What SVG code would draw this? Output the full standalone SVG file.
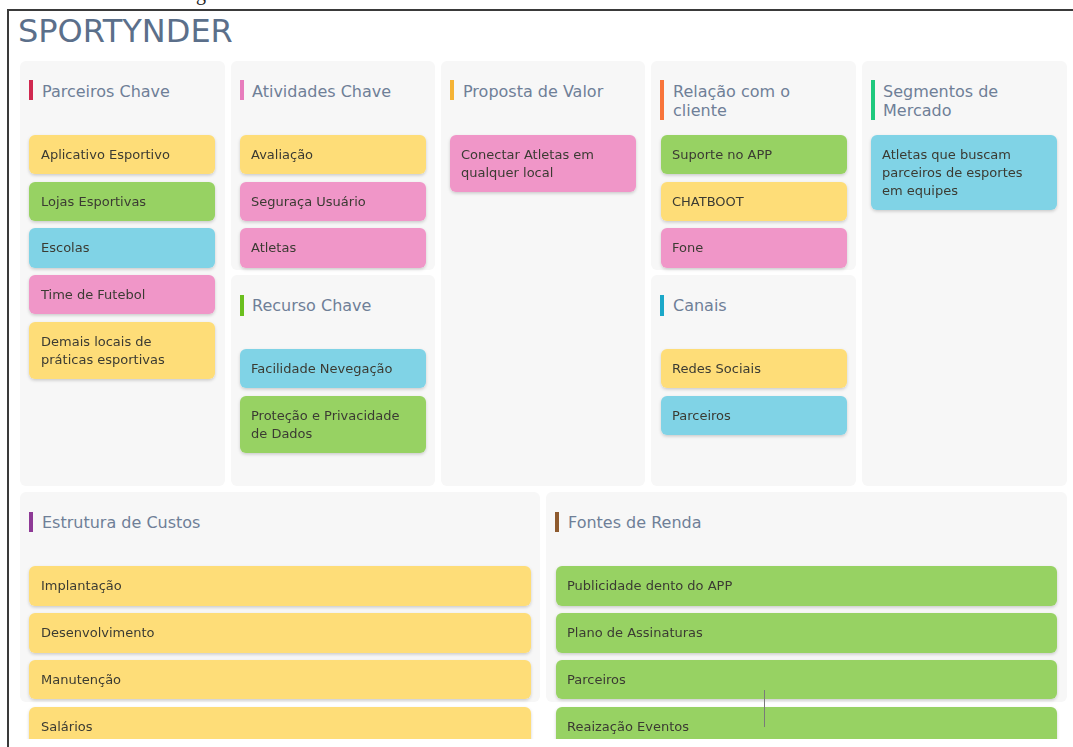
<svg xmlns="http://www.w3.org/2000/svg" width="1073" height="747" viewBox="0 0 1073 747">
<style>
.pn{fill:#f7f7f7}
.hd{font-family:"DejaVu Sans",Verdana,sans-serif;font-size:16px;fill:#6f7f97}
.ct{font-family:"DejaVu Sans",Verdana,sans-serif;font-size:13px;fill:#3b3b33}
.y{fill:#fedd78}
.g{fill:#97d263}
.b{fill:#80d3e6}
.p{fill:#f096c8}
</style>
<defs>
<filter id="sh" x="-5%" y="-20%" width="110%" height="150%">
<feDropShadow dx="0" dy="1.5" stdDeviation="1.5" flood-color="#000" flood-opacity="0.18"/>
</filter>
<clipPath id="clip"><rect x="0" y="0" width="1073" height="739"/></clipPath>
</defs>
<rect width="1073" height="747" fill="#ffffff"/>
<text x="196" y="0" font-family="Liberation Serif, serif" font-size="20" fill="#222">g</text>
<path d="M8,747 V10 H1073" fill="none" stroke="#3a3a3a" stroke-width="2"/>
<text x="18" y="42" font-family="DejaVu Sans, Verdana, sans-serif" font-size="32" fill="#5b6f8a">SPORTYNDER</text>
<g clip-path="url(#clip)">
<g id="parceiros-chave">
<rect class="pn" x="20" y="61" width="205" height="425" rx="6"/>
<rect x="29" y="80" width="4" height="20" fill="#d0284f"/>
<text class="hd" x="42" y="97">Parceiros Chave</text>
<g id="pc1" filter="url(#sh)"><rect class="y" x="29" y="135" width="186" height="39" rx="6"/><text class="ct" x="41" y="159">Aplicativo Esportivo</text></g>
<g id="pc2" filter="url(#sh)"><rect class="g" x="29" y="182" width="186" height="39" rx="6"/><text class="ct" x="41" y="206">Lojas Esportivas</text></g>
<g id="pc3" filter="url(#sh)"><rect class="b" x="29" y="228" width="186" height="40" rx="6"/><text class="ct" x="41" y="252">Escolas</text></g>
<g id="pc4" filter="url(#sh)"><rect class="p" x="29" y="275" width="186" height="39" rx="6"/><text class="ct" x="41" y="299">Time de Futebol</text></g>
<g id="pc5" filter="url(#sh)"><rect class="y" x="29" y="322" width="186" height="57" rx="6"/><text class="ct" x="41" y="346">Demais locais de</text><text class="ct" x="41" y="364">práticas esportivas</text></g>
</g>
<g id="atividades-chave">
<rect class="pn" x="231" y="61" width="204" height="209" rx="6"/>
<rect x="240" y="80" width="4" height="20" fill="#e77cbc"/>
<text class="hd" x="252" y="97">Atividades Chave</text>
<g id="ac1" filter="url(#sh)"><rect class="y" x="240" y="135" width="186" height="39" rx="6"/><text class="ct" x="251" y="159">Avaliação</text></g>
<g id="ac2" filter="url(#sh)"><rect class="p" x="240" y="182" width="186" height="39" rx="6"/><text class="ct" x="251" y="206">Seguraça Usuário</text></g>
<g id="ac3" filter="url(#sh)"><rect class="p" x="240" y="228" width="186" height="40" rx="6"/><text class="ct" x="251" y="252">Atletas</text></g>
</g>
<g id="recurso-chave">
<rect class="pn" x="231" y="275" width="204" height="211" rx="6"/>
<rect x="240" y="295" width="4" height="21" fill="#6bbf1e"/>
<text class="hd" x="252" y="311">Recurso Chave</text>
<g id="rc1" filter="url(#sh)"><rect class="b" x="240" y="349" width="186" height="39" rx="6"/><text class="ct" x="251" y="373">Facilidade Nevegação</text></g>
<g id="rc2" filter="url(#sh)"><rect class="g" x="240" y="396" width="186" height="57" rx="6"/><text class="ct" x="251" y="420">Proteção e Privacidade</text><text class="ct" x="251" y="438">de Dados</text></g>
</g>
<g id="proposta-de-valor">
<rect class="pn" x="441" y="61" width="204" height="425" rx="6"/>
<rect x="450" y="80" width="4" height="20" fill="#f5b335"/>
<text class="hd" x="463" y="97">Proposta de Valor</text>
<g id="pv1" filter="url(#sh)"><rect class="p" x="450" y="135" width="186" height="57" rx="6"/><text class="ct" x="461" y="159">Conectar Atletas em</text><text class="ct" x="461" y="177">qualquer local</text></g>
</g>
<g id="relacao-cliente">
<rect class="pn" x="651" y="61" width="205" height="209" rx="6"/>
<rect x="660" y="80" width="4" height="40" fill="#f8743a"/>
<text class="hd" x="673" y="97">Relação com o</text>
<text class="hd" x="673" y="116">cliente</text>
<g id="rl1" filter="url(#sh)"><rect class="g" x="661" y="135" width="186" height="39" rx="6"/><text class="ct" x="672" y="159">Suporte no APP</text></g>
<g id="rl2" filter="url(#sh)"><rect class="y" x="661" y="182" width="186" height="39" rx="6"/><text class="ct" x="672" y="206">CHATBOOT</text></g>
<g id="rl3" filter="url(#sh)"><rect class="p" x="661" y="228" width="186" height="40" rx="6"/><text class="ct" x="672" y="252">Fone</text></g>
</g>
<g id="canais">
<rect class="pn" x="651" y="275" width="205" height="211" rx="6"/>
<rect x="660" y="295" width="4" height="21" fill="#1ba8c9"/>
<text class="hd" x="673" y="311">Canais</text>
<g id="cn1" filter="url(#sh)"><rect class="y" x="661" y="349" width="186" height="39" rx="6"/><text class="ct" x="672" y="373">Redes Sociais</text></g>
<g id="cn2" filter="url(#sh)"><rect class="b" x="661" y="396" width="186" height="39" rx="6"/><text class="ct" x="672" y="420">Parceiros</text></g>
</g>
<g id="segmentos-mercado">
<rect class="pn" x="862" y="61" width="205" height="425" rx="6"/>
<rect x="871" y="80" width="4" height="40" fill="#1ec97e"/>
<text class="hd" x="883" y="97">Segmentos de</text>
<text class="hd" x="883" y="116">Mercado</text>
<g id="sm1" filter="url(#sh)"><rect class="b" x="871" y="135" width="186" height="75" rx="6"/><text class="ct" x="882" y="159">Atletas que buscam</text><text class="ct" x="882" y="177">parceiros de esportes</text><text class="ct" x="882" y="195">em equipes</text></g>
</g>
<g id="estrutura-custos">
<rect class="pn" x="20" y="492" width="520" height="210" rx="6"/>
<rect x="29" y="512" width="4" height="20" fill="#8e3a96"/>
<text class="hd" x="42" y="528">Estrutura de Custos</text>
<g id="ec1" filter="url(#sh)"><rect class="y" x="29" y="566" width="502" height="40" rx="6"/><text class="ct" x="41" y="590">Implantação</text></g>
<g id="ec2" filter="url(#sh)"><rect class="y" x="29" y="613" width="502" height="40" rx="6"/><text class="ct" x="41" y="637">Desenvolvimento</text></g>
<g id="ec3" filter="url(#sh)"><rect class="y" x="29" y="660" width="502" height="39" rx="6"/><text class="ct" x="41" y="684">Manutenção</text></g>
<g id="ec4" filter="url(#sh)"><rect class="y" x="29" y="707" width="502" height="40" rx="6"/><text class="ct" x="41" y="731">Salários</text></g>
</g>
<g id="fontes-renda">
<rect class="pn" x="546" y="492" width="521" height="210" rx="6"/>
<rect x="555" y="512" width="4" height="20" fill="#8e5a2e"/>
<text class="hd" x="568" y="528">Fontes de Renda</text>
<g id="fr1" filter="url(#sh)"><rect class="g" x="556" y="566" width="501" height="40" rx="6"/><text class="ct" x="567" y="590">Publicidade dento do APP</text></g>
<g id="fr2" filter="url(#sh)"><rect class="g" x="556" y="613" width="501" height="40" rx="6"/><text class="ct" x="567" y="637">Plano de Assinaturas</text></g>
<g id="fr3" filter="url(#sh)"><rect class="g" x="556" y="660" width="501" height="39" rx="6"/><text class="ct" x="567" y="684">Parceiros</text></g>
<g id="fr4" filter="url(#sh)"><rect class="g" x="556" y="707" width="501" height="40" rx="6"/><text class="ct" x="567" y="731">Reaização Eventos</text></g>
</g>
</g>
<g id="connectors"></g>
<line x1="764.5" y1="690" x2="764.5" y2="727" stroke="#7a7a7a" stroke-width="1"/>
</svg>
